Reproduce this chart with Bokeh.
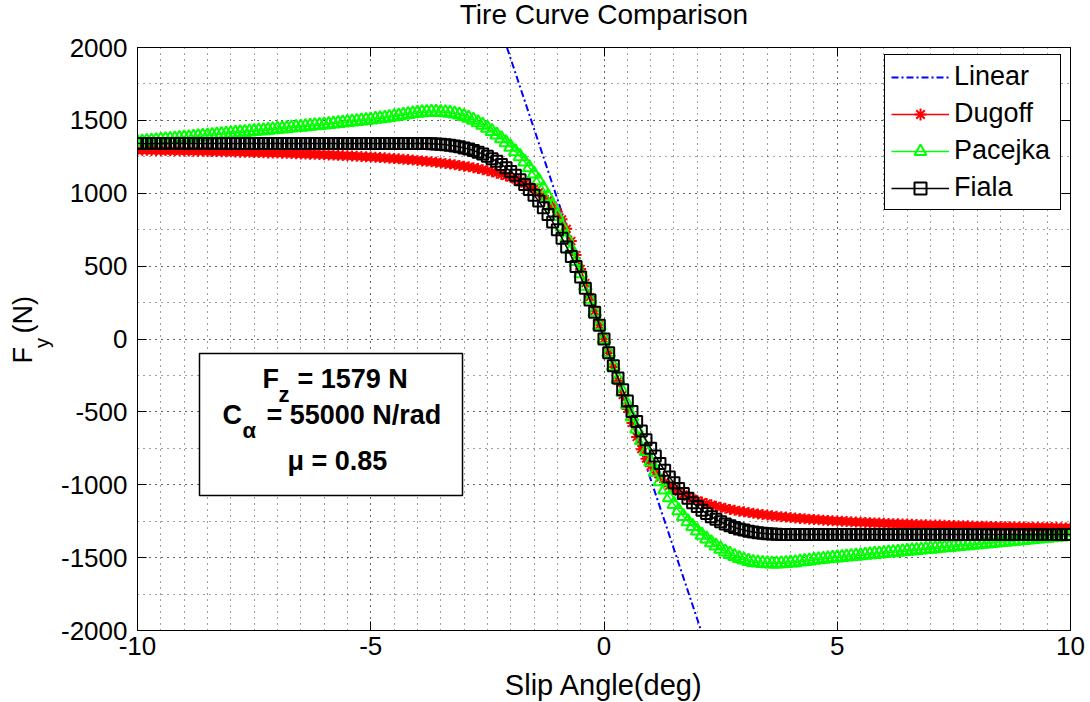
from math import pi
from bokeh.plotting import figure
from bokeh.layouts import column, row
from bokeh.models import (Range1d, LinearAxis, SingleIntervalTicker, Legend,
                          LegendItem, Label, BoxAnnotation)
from bokeh.embed import file_html
from bokeh.resources import INLINE

# ---------------- data ----------------
slip_deg = [round(i / 10, 1) for i in range(-100, 101)]

linear_deg = [-2.08, 2.08]
linear_fy = [2000, -2000]

dugoff_fy = [
    1296, 1295, 1295, 1294, 1294, 1293, 1293, 1292, 1292, 1291,
    1290, 1290, 1289, 1289, 1288, 1287, 1287, 1286, 1285, 1285,
    1284, 1283, 1282, 1282, 1281, 1280, 1279, 1278, 1277, 1276,
    1276, 1275, 1274, 1273, 1271, 1270, 1269, 1268, 1267, 1266,
    1264, 1263, 1262, 1260, 1259, 1257, 1256, 1254, 1252, 1250,
    1249, 1247, 1245, 1243, 1240, 1238, 1236, 1233, 1231, 1228,
    1225, 1222, 1219, 1216, 1212, 1208, 1204, 1200, 1196, 1191,
    1186, 1181, 1175, 1169, 1162, 1155, 1147, 1138, 1129, 1119,
    1108, 1095, 1082, 1066, 1049, 1030, 1007, 981, 951, 916,
    873, 821, 756, 672, 576, 480, 384, 288, 192, 96,
    0,
    -96, -192, -288, -384, -480, -576, -672, -756, -821, -873,
    -916, -951, -981, -1007, -1030, -1049, -1066, -1082, -1095, -1108,
    -1119, -1129, -1138, -1147, -1155, -1162, -1169, -1175, -1181, -1186,
    -1191, -1196, -1200, -1204, -1208, -1212, -1216, -1219, -1222, -1225,
    -1228, -1231, -1233, -1236, -1238, -1240, -1243, -1245, -1247, -1249,
    -1250, -1252, -1254, -1256, -1257, -1259, -1260, -1262, -1263, -1264,
    -1266, -1267, -1268, -1269, -1270, -1271, -1273, -1274, -1275, -1276,
    -1276, -1277, -1278, -1279, -1280, -1281, -1282, -1282, -1283, -1284,
    -1285, -1285, -1286, -1287, -1287, -1288, -1289, -1289, -1290, -1290,
    -1291, -1292, -1292, -1293, -1293, -1294, -1294, -1295, -1295, -1296,
]

pacejka_fy = [
    1350, 1353, 1356, 1359, 1362, 1365, 1368, 1371, 1374, 1377,
    1380, 1383, 1386, 1389, 1392, 1395, 1398, 1401, 1404, 1407,
    1410, 1413, 1416, 1419, 1422, 1425, 1428, 1431, 1434, 1437,
    1440, 1443, 1446, 1449, 1452, 1455, 1458, 1461, 1464, 1467,
    1470, 1473, 1477, 1480, 1484, 1487, 1491, 1494, 1498, 1501,
    1505, 1509, 1513, 1517, 1522, 1527, 1532, 1537, 1542, 1547,
    1551, 1554, 1556, 1557, 1557, 1556, 1554, 1551, 1545, 1538,
    1528, 1516, 1502, 1486, 1468, 1448, 1426, 1402, 1376, 1348,
    1318, 1286, 1253, 1216, 1177, 1134, 1087, 1035, 977, 913,
    843, 770, 694, 615, 533, 449, 363, 275, 185, 93,
    0,
    -93, -185, -275, -363, -449, -533, -615, -694, -770, -843,
    -913, -977, -1035, -1087, -1134, -1177, -1216, -1252, -1285, -1315,
    -1344, -1371, -1396, -1419, -1440, -1459, -1476, -1491, -1504, -1515,
    -1524, -1531, -1536, -1539, -1541, -1542, -1542, -1541, -1539, -1536,
    -1533, -1529, -1525, -1521, -1517, -1513, -1509, -1506, -1503, -1500,
    -1497, -1494, -1491, -1488, -1485, -1482, -1479, -1476, -1473, -1470,
    -1467, -1464, -1461, -1458, -1455, -1452, -1449, -1446, -1443, -1440,
    -1437, -1434, -1431, -1428, -1425, -1422, -1419, -1416, -1413, -1410,
    -1407, -1404, -1401, -1398, -1395, -1392, -1389, -1386, -1383, -1380,
    -1377, -1374, -1371, -1368, -1365, -1362, -1359, -1356, -1353, -1350,
]

fiala_fy = [
    1342, 1342, 1342, 1342, 1342, 1342, 1342, 1342, 1342, 1342,
    1342, 1342, 1342, 1342, 1342, 1342, 1342, 1342, 1342, 1342,
    1342, 1342, 1342, 1342, 1342, 1342, 1342, 1342, 1342, 1342,
    1342, 1342, 1342, 1342, 1342, 1342, 1342, 1342, 1342, 1342,
    1342, 1342, 1342, 1342, 1342, 1342, 1342, 1342, 1342, 1342,
    1342, 1342, 1342, 1342, 1342, 1342, 1342, 1342, 1342, 1342,
    1342, 1342, 1341, 1340, 1338, 1336, 1333, 1329, 1324, 1319,
    1311, 1303, 1293, 1282, 1269, 1254, 1237, 1219, 1198, 1175,
    1150, 1123, 1093, 1060, 1025, 987, 946, 901, 854, 803,
    749, 692, 631, 566, 498, 425, 349, 268, 183, 94,
    0,
    -94, -183, -268, -349, -425, -498, -566, -631, -692, -749,
    -803, -854, -901, -946, -987, -1025, -1060, -1093, -1123, -1150,
    -1175, -1198, -1219, -1237, -1254, -1269, -1282, -1293, -1303, -1311,
    -1319, -1324, -1329, -1333, -1336, -1338, -1340, -1341, -1342, -1342,
    -1342, -1342, -1342, -1342, -1342, -1342, -1342, -1342, -1342, -1342,
    -1342, -1342, -1342, -1342, -1342, -1342, -1342, -1342, -1342, -1342,
    -1342, -1342, -1342, -1342, -1342, -1342, -1342, -1342, -1342, -1342,
    -1342, -1342, -1342, -1342, -1342, -1342, -1342, -1342, -1342, -1342,
    -1342, -1342, -1342, -1342, -1342, -1342, -1342, -1342, -1342, -1342,
    -1342, -1342, -1342, -1342, -1342, -1342, -1342, -1342, -1342, -1342,
]

x_tick_values = [-10, -5, 0, 5, 10]
x_tick_labels = ["-10", "-5", "0", "5", "10"]
y_tick_values = [-2000, -1500, -1000, -500, 0, 500, 1000, 1500, 2000]
y_tick_labels = ["-2000", "-1500", "-1000", "-500", "0", "500", "1000", "1500", "2000"]

# ---------------- layout constants (pixels) ----------------
FONT = "Liberation Sans"
W, H = 1090, 702
TITLE_H = 30          # height of title strip
LEFT_W = 55           # width of y-label strip
BOTTOM_H = 32         # height of x-label strip
FR_L, FR_T, FR_W, FR_H = 137, 47, 933, 583   # frame in page pixels
X0, X1, Y0, Y1 = -10, 10, -2000, 2000
MAIN_H = H - TITLE_H - BOTTOM_H


def px2x(px):
    return X0 + (px - FR_L) / FR_W * (X1 - X0)


def px2y(py):
    return Y1 - (py - FR_T) / FR_H * (Y1 - Y0)


def strip(width, height, y_top):
    f = figure(width=width, height=height, x_range=Range1d(0, width),
               y_range=Range1d(y_top + height, y_top),
               x_axis_location=None, y_axis_location=None,
               min_border=0, output_backend="svg", toolbar_location=None)
    f.grid.visible = False
    f.outline_line_color = None
    f.background_fill_color = "white"
    f.border_fill_color = "white"
    return f


# ---------------- main plot ----------------
p = figure(frame_width=FR_W, frame_height=FR_H,
           min_border_left=FR_L - LEFT_W, min_border_right=W - FR_L - FR_W,
           min_border_top=FR_T - TITLE_H,
           min_border_bottom=MAIN_H - (FR_T - TITLE_H) - FR_H,
           x_range=Range1d(X0, X1), y_range=Range1d(Y0, Y1),
           output_backend="svg", toolbar_location=None)
p.background_fill_color = "white"
p.border_fill_color = "white"
p.outline_line_color = "black"
p.outline_line_width = 1

xt = SingleIntervalTicker(interval=5, num_minor_ticks=10)
yt = SingleIntervalTicker(interval=500, num_minor_ticks=2)

for ax in (p.xaxis[0], p.yaxis[0]):
    ax.major_tick_in = 9
    ax.major_tick_out = 0
    ax.minor_tick_in = 0
    ax.minor_tick_out = 0
    ax.axis_line_color = "black"
    ax.major_tick_line_color = "black"
    ax.major_label_text_font = FONT
    ax.major_label_text_font_size = "26px"
    ax.major_label_text_color = "black"
p.xaxis.ticker = xt
p.yaxis.ticker = yt
p.xaxis.major_label_overrides = dict(zip(x_tick_values, x_tick_labels))
p.yaxis.major_label_overrides = dict(zip(y_tick_values, y_tick_labels))
p.xaxis.major_label_standoff = 6
p.yaxis.major_label_standoff = 10

# box-style tick marks on the top and right edges (no labels drawn)
for loc, tk in (("above", xt), ("right", yt)):
    ax2 = LinearAxis(ticker=tk, major_tick_in=9, major_tick_out=0,
                     minor_tick_in=0, minor_tick_out=0,
                     major_label_text_font_size="1px", major_label_standoff=0,
                     major_label_text_color=None,
                     axis_line_color="black", major_tick_line_color="black")
    p.add_layout(ax2, loc)

for g in (p.xgrid[0], p.ygrid[0]):
    g.grid_line_color = "black"
    g.grid_line_dash = "1 5"
    g.grid_line_alpha = 0.75
    g.minor_grid_line_color = "black"
    g.minor_grid_line_dash = "1 5"
    g.minor_grid_line_alpha = 0.75

# ---------------- series ----------------
r_lin = p.line(linear_deg, linear_fy, line_color="#0000FF", line_width=2,
               line_dash="7 3 2 3")
r_dug_l = p.line(slip_deg, dugoff_fy, line_color="#FF0000", line_width=1.5)
r_dug_m = p.scatter(slip_deg, dugoff_fy, marker="asterisk", size=11,
                    line_color="#FF0000", line_width=2)
r_pac_l = p.line(slip_deg, pacejka_fy, line_color="#00FF00", line_width=1.5)
r_pac_m = p.scatter(slip_deg, pacejka_fy, marker="triangle", size=13,
                    fill_color=None, line_color="#00FF00", line_width=2)
r_fia_l = p.line(slip_deg, fiala_fy, line_color="black", line_width=1.5)
r_fia_m = p.scatter(slip_deg, fiala_fy, marker="square", size=11,
                    fill_color=None, line_color="black", line_width=2)

legend = Legend(items=[
    LegendItem(label="Linear", renderers=[r_lin]),
    LegendItem(label="Dugoff", renderers=[r_dug_l, r_dug_m]),
    LegendItem(label="Pacejka", renderers=[r_pac_l, r_pac_m]),
    LegendItem(label="Fiala", renderers=[r_fia_l, r_fia_m]),
], location=(884 - FR_L, FR_T + FR_H - 210))
legend.border_line_color = "black"
legend.border_line_width = 1
legend.border_line_alpha = 1
legend.background_fill_color = "white"
legend.background_fill_alpha = 1
legend.label_text_font = FONT
legend.label_text_font_size = "27px"
legend.label_text_color = "black"
legend.glyph_width = 58
legend.glyph_height = 30
legend.label_height = 30
legend.label_width = 100
legend.label_standoff = 5
legend.spacing = 6
legend.padding = 6
legend.margin = 0
p.add_layout(legend)

# ---------------- annotation box ----------------
box = BoxAnnotation(left=px2x(199), right=px2x(462), top=px2y(353), bottom=px2y(495),
                    fill_color="white", fill_alpha=1, line_color="black",
                    line_alpha=1, line_width=1.5)
p.add_layout(box)


def lab(fig, text, x, y, size, bold=False, align="left", angle=0.0):
    fig.add_layout(Label(x=x, y=y, text=text, text_font=FONT,
                         text_font_size=size, text_align=align,
                         text_baseline="middle", angle=angle,
                         text_font_style="bold" if bold else "normal",
                         text_color="black"))


# annotation text (anchors = vertical middle of each text run)
lab(p, "F", px2x(262), px2y(378), "27px", bold=True)
lab(p, "z", px2x(278), px2y(394), "22px", bold=True)
lab(p, "= 1579 N", px2x(297), px2y(378), "27px", bold=True)
lab(p, "C", px2x(222), px2y(414), "27px", bold=True)
lab(p, "\u03b1", px2x(242), px2y(430), "22px", bold=True)
lab(p, "= 55000 N/rad", px2x(266), px2y(414), "27px", bold=True)
lab(p, "\u03bc = 0.85", px2x(287), px2y(460), "27px", bold=True)

# ---------------- title / axis label strips ----------------
title_fig = strip(W, TITLE_H, 0)
lab(title_fig, "Tire Curve Comparison", FR_L + FR_W / 2, 14, "28px", align="center")

left_fig = strip(LEFT_W, MAIN_H, TITLE_H)
lab(left_fig, "F", 22, 377, "27px", angle=pi / 2)
lab(left_fig, "y", 41, 360, "20px", angle=pi / 2)
lab(left_fig, "(N)", 22, 344, "27px", angle=pi / 2)

bottom_fig = strip(W, BOTTOM_H, H - BOTTOM_H)
lab(bottom_fig, "Slip Angle(deg)", FR_L + FR_W / 2, 684, "29px", align="center")

layout = column(title_fig, row(left_fig, p), bottom_fig)

open("out.html", "w").write(file_html(layout, INLINE))
